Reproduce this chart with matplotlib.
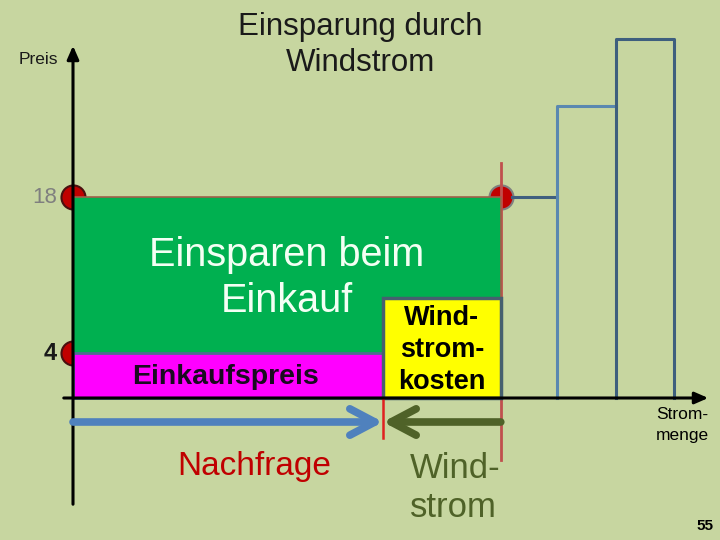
import matplotlib
matplotlib.use('Agg')
import matplotlib.pyplot as plt
from matplotlib.patches import Rectangle, FancyArrowPatch

plt.rcParams['font.family'] = ['Liberation Sans', 'DejaVu Sans']

# values (price in ct, quantity in arbitrary units)
preis_spitze = 18        # price of bought electricity at peak
preis_einkauf = 4        # normal purchase price
preis_wind = 9           # cost of wind power
nachfrage = 100          # demand without wind
wind_ende = 138          # demand incl. wind share
stufen_x = [138, 156, 175, 194]      # merit order steps right of the demand
stufen_preis = [18, 26.2, 32.2]
preis_ticks = [18, 4]
preis_labels = ['18', '4']

bg = '#C7D6A0'

# pixel layout helpers (axis origin at px 73/398)
def qx(px):
    return (px - 73) / 3.1

def py(px):
    return (398 - px) / 11.14

fig = plt.figure(figsize=(7.2, 5.4), dpi=100, facecolor=bg)
ax = fig.add_axes([0, 0, 1, 1])
ax.set_facecolor(bg)
ax.set_xlim(qx(0), qx(720))
ax.set_ylim(py(540), py(0))
ax.axis('off')

# red dots on the price axis and at the corner
ax.scatter([0, 0], preis_ticks, s=300, color='#C00000', edgecolor='#4A1010', lw=1.5, zorder=1)
ax.scatter([wind_ende], [preis_spitze], s=300, color='#C00000', edgecolor='#808080', lw=1.5, zorder=1)

# red vertical marker lines
ax.plot([wind_ende, wind_ende], [py(460), py(163)], color='#C0504D', lw=2, zorder=1)
ax.plot([nachfrage, nachfrage], [0, py(438)], color='#E02020', lw=1.8, zorder=4)

# areas
ax.add_patch(Rectangle((0, 0), wind_ende, preis_spitze, facecolor='#00B050',
                       edgecolor='#A0604A', lw=1.2, zorder=2))
ax.add_patch(Rectangle((0, 0), nachfrage, preis_einkauf, facecolor='#FF00FF',
                       edgecolor='#4F6D8F', lw=2, zorder=3))
ax.add_patch(Rectangle((nachfrage, 0), wind_ende - nachfrage, preis_wind, facecolor='#FFFF00',
                       edgecolor='#46606F', lw=2.5, zorder=3))

# step supply curve
ax.plot([qx(512), stufen_x[1]], [stufen_preis[0], stufen_preis[0]], color='#3F5F7F', lw=2.2, zorder=1)
ax.plot([stufen_x[1], stufen_x[1], stufen_x[2]], [0, stufen_preis[1], stufen_preis[1]],
        color='#5A88B0', lw=2.2, zorder=1)
ax.plot([stufen_x[2], stufen_x[2], stufen_x[3], stufen_x[3]],
        [0, stufen_preis[2], stufen_preis[2], 0], color='#3E5F7E', lw=2.2, zorder=1)

# axes with arrows
ax.annotate('', xy=(qx(711), 0), xytext=(qx(61), 0),
            arrowprops=dict(arrowstyle='-|>,head_length=0.8,head_width=0.35', color='black', lw=2.2),
            zorder=5)
ax.annotate('', xy=(0, py(43)), xytext=(0, py(507)),
            arrowprops=dict(arrowstyle='-|>,head_length=0.8,head_width=0.35', color='black', lw=2.2),
            zorder=5)

# arrows under the axis
arr_y = py(422)
ax.add_patch(FancyArrowPatch((0, arr_y), (nachfrage, arr_y),
                             arrowstyle='->,head_length=1.8,head_width=0.95', mutation_scale=10,
                             color='#4F81BD', lw=5.5, shrinkA=0, shrinkB=0, zorder=5))
ax.add_patch(FancyArrowPatch((wind_ende, arr_y), (nachfrage, arr_y),
                             arrowstyle='->,head_length=1.8,head_width=0.95', mutation_scale=10,
                             color='#4F6228', lw=5.5, shrinkA=0, shrinkB=0, zorder=5))

# texts
ax.text(qx(360), py(45), 'Einsparung durch\nWindstrom', ha='center', va='center',
        fontsize=22.5, color='#1A1A1A', linespacing=1.28)
ax.text(qx(38), py(60), 'Preis', ha='center', va='center', fontsize=12.5, color='#1A1A1A')
ax.text(qx(57), preis_ticks[0], preis_labels[0], ha='right', va='center', fontsize=16, color='#7F7F7F')
ax.text(qx(57), preis_ticks[1], preis_labels[1], ha='right', va='center', fontsize=17,
        fontweight='bold', color='#1A1A1A')
ax.text(qx(287), py(278), 'Einsparen beim\nEinkauf', ha='center', va='center',
        fontsize=28.5, color='#F4FFF4', linespacing=1.25, zorder=6)
ax.text(qx(226), py(377), 'Einkaufspreis', ha='center', va='center', fontsize=20.5,
        fontweight='bold', color='#1A0A20', zorder=6)
ax.text((nachfrage + wind_ende) / 2, py(350), 'Wind-\nstrom-\nkosten', ha='center', va='center',
        fontsize=19.5, fontweight='bold', color='black', linespacing=1.3, zorder=6)
ax.text(qx(682), py(425), 'Strom-\nmenge', ha='center', va='center', fontsize=12.5,
        color='black', linespacing=1.45)
ax.text(qx(254), py(467), 'Nachfrage', ha='center', va='center', fontsize=24, color='#C00000')
ax.text(qx(410), py(488), 'Wind-\nstrom', ha='left', va='center', fontsize=25,
        color='#4F6228', linespacing=1.22)
ax.text(qx(705), py(526), '55', ha='center', va='center', fontsize=11, fontweight='bold', color='black')

fig.savefig('out.png', dpi=100, facecolor=bg)
